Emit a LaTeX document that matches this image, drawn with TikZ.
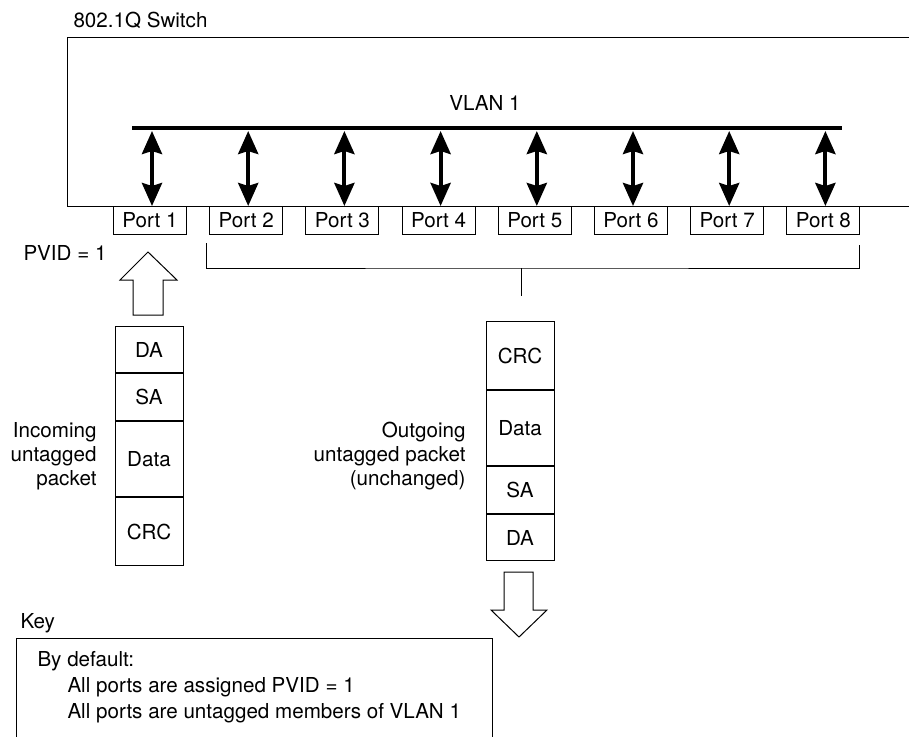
\documentclass[tikz,border=0pt]{standalone}
\usepackage{fontspec}
\setmainfont{TeX Gyre Heros}
\usetikzlibrary{calc}
\usetikzlibrary{arrows.meta}
\usetikzlibrary{positioning}

\begin{document}
\begin{tikzpicture}[x=1pt,y=-1pt,line width=1pt,
  every node/.style={font=\fontsize{20.6}{24}\selectfont,inner sep=0pt},
  portbox/.style={draw,minimum width=73pt,minimum height=28pt,anchor=north},
  field/.style={draw,minimum width=68pt},
  vlanarrow/.style={line width=4pt,{Stealth[length=23pt,width=20pt,inset=3pt]}-{Stealth[length=23pt,width=20pt,inset=3pt]}}]
\useasboundingbox (0,0) rectangle (909,736);

\node[anchor=west] (sw) at (73,20) {802.1Q Switch};
\draw (940,37) -- (67,37) -- (67,206) -- (940,206);

\node (vlan) at (485,103) {VLAN 1};
\draw[line width=4.5pt] (132,128) -- (842,128);

\foreach \i in {1,...,8} {
  \coordinate (b\i) at ({152+96.2*(\i-1)},131);
  \node[portbox] (p\i) at ($(b\i)+(-2,75)$) {Port \i};
  \draw[vlanarrow] (b\i) -- (b\i |- p\i.north);
}

\node[anchor=west] (pvid) at (23,253) {PVID = 1};

\coordinate (brl) at (206,243);
\coordinate (brr) at (859,245);
\coordinate (brm) at (521,268);
\coordinate (brt) at (521,296);
\draw (brl) |- (brm) -| (brr);
\draw (brm) -- (brt);

\draw (148,252) -- (177,280) -- (163,280) -- (163,315) -- (133,315) -- (133,280) -- (120,280) -- cycle;

\node[field,minimum height=46pt,anchor=north] (inDA) at (149,326) {DA};
\node[field,minimum height=47pt,below=0pt of inDA] (inSA) {SA};
\node[field,minimum height=75pt,below=0pt of inSA] (inData) {Data};
\node[field,minimum height=68pt,below=0pt of inData] (inCRC) {CRC};
\node[align=right,anchor=east] (intxt) at (97,456) {Incoming\\untagged\\packet};

\node[field,minimum height=68pt,anchor=north] (outCRC) at (520,321) {CRC};
\node[field,minimum height=75pt,below=0pt of outCRC] (outData) {Data};
\node[field,minimum height=47pt,below=0pt of outData] (outSA) {SA};
\node[field,minimum height=46pt,below=0pt of outSA] (outDA) {DA};
\node[align=right,anchor=east] (outtxt) at (466,456) {Outgoing\\untagged packet\\(unchanged)};

\draw (504,572) -- (533,572) -- (533,610) -- (547,610) -- (519,637) -- (491,610) -- (504,610) -- cycle;

\node[anchor=west] (key) at (20,623) {Key};
\draw (16,760) -- (16,638) -- (492,638) -- (492,760);
\node[anchor=west] (k1) at (37,661) {By default:};
\node[anchor=west] (k2) at (67,687) {All ports are assigned PVID = 1};
\node[anchor=west] (k3) at (67,713) {All ports are untagged members of VLAN 1};
\end{tikzpicture}
\end{document}
